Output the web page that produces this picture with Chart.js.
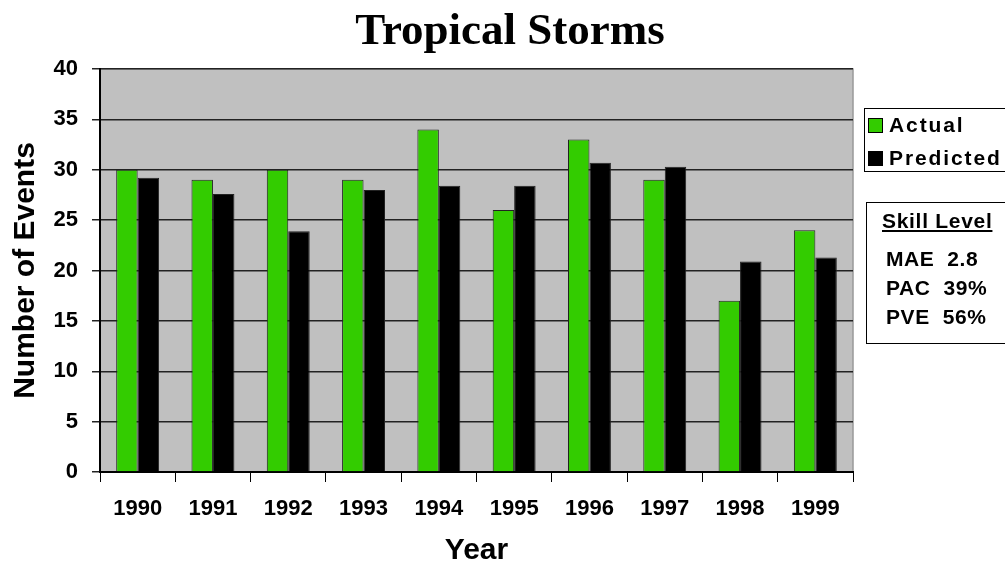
<!DOCTYPE html>
<html><head><meta charset="utf-8">
<script src="https://cdn.jsdelivr.net/npm/chart.js@4"></script>
<style>
html,body{margin:0;padding:0;background:#fff;}
#wrap{position:relative;width:1005px;height:569px;overflow:hidden;}
#title{position:absolute;left:0;top:3px;width:1020px;text-align:center;font:bold 45px "Liberation Serif","Times New Roman",serif;color:#000;}
#legend{position:absolute;left:864px;top:108px;width:150px;height:64px;border:1px solid #000;box-sizing:border-box;font:bold 21px "Liberation Sans",Arial,sans-serif;letter-spacing:1.9px;}
#legend .row{position:absolute;left:3px;height:24px;line-height:24px;white-space:nowrap;}
#legend .sw{display:inline-block;width:13px;height:13px;border:1px solid #000;margin-right:6px;vertical-align:-1px;}
#skill{position:absolute;left:866px;top:202px;width:150px;height:142px;border:1px solid #000;box-sizing:border-box;font:bold 21px "Liberation Sans",Arial,sans-serif;letter-spacing:0.6px;}
#skill .h{position:absolute;left:15px;top:6px;font-weight:bold;text-decoration:underline;font-size:21px;letter-spacing:0.7px;}
#skill .l{position:absolute;left:19px;white-space:nowrap;}
</style></head>
<body><div id="wrap"><canvas id="c" width="1005" height="569"></canvas>
<div id="title">Tropical Storms</div>
<div id="legend"></div>
<div id="skill"></div>
</div>
<script>
const years = ["1990","1991","1992","1993","1994","1995","1996","1997","1998","1999"];
const actual = [30,29,30,29,34,26,33,29,17,24];
const predicted = [29.2,27.6,23.9,28.0,28.4,28.4,30.7,30.3,20.9,21.3];
const seriesNames = ["Actual","Predicted"];
const seriesColors = ["#33cc00","#000000"];
const skillTitle = "Skill Level";
const skillLines = [["MAE","2.8"],["PAC","39%"],["PVE","56%"]];

const plotBg = {
  id:'plotBg',
  beforeDraw(chart){
    const {ctx, chartArea:a} = chart;
    ctx.save();
    ctx.fillStyle = '#c0c0c0';
    ctx.fillRect(a.left, a.top, a.right-a.left, a.bottom-a.top);
    ctx.strokeStyle = '#999';
    ctx.lineWidth = 1.5;
    ctx.beginPath();
    ctx.moveTo(a.left, a.top); ctx.lineTo(a.right, a.top); ctx.lineTo(a.right, a.bottom);
    ctx.stroke();
    ctx.restore();
  }
};

const font = "'Liberation Sans', Arial, sans-serif";
const chart = new Chart(document.getElementById('c'), {
  type:'bar',
  data:{
    labels: years,
    datasets:[
      {label:seriesNames[0], data:actual, backgroundColor:seriesColors[0], borderColor:'#222', borderWidth:1},
      {label:seriesNames[1], data:predicted, backgroundColor:seriesColors[1], borderColor:'#222', borderWidth:1}
    ]
  },
  options:{
    responsive:false, animation:false,
    layout:{padding:{top:69,right:152,left:0,bottom:0}},
    plugins:{legend:{display:false}, tooltip:{enabled:false}, title:{display:false}},
    datasets:{bar:{categoryPercentage:0.57, barPercentage:1.0}},
    scales:{
      x:{
        afterFit(s){ s.height = 97; },
        grid:{offset:true, drawOnChartArea:false, drawTicks:true, tickLength:10, color:'#000', lineWidth:1},
        border:{color:'#000', width:2},
        ticks:{color:'#000', font:{family:font, size:22, weight:'bold'}, padding:14},
        title:{display:true, text:'Year', color:'#000', font:{family:font, size:30, weight:'bold'}, padding:{top:0,bottom:0}}
      },
      y:{
        min:0, max:40,
        afterFit(s){ s.width = 100; },
        grid:{color:'#222', lineWidth:1.5, tickLength:8, drawTicks:true},
        border:{color:'#000', width:2},
        ticks:{stepSize:5, color:'#000', font:{family:font, size:22, weight:'bold'}, padding:14},
        title:{display:true, text:'Number of Events', color:'#000', font:{family:font, size:30, weight:'bold'}, padding:{top:8,bottom:0}}
      }
    }
  },
  plugins:[plotBg]
});

// HTML legend built from chart datasets
const lg = document.getElementById('legend');
chart.data.datasets.forEach((ds,i)=>{
  const r = document.createElement('div');
  r.className='row'; r.style.top = (4 + i*33) + 'px';
  const sw = document.createElement('span'); sw.className='sw'; sw.style.background = ds.backgroundColor;
  r.appendChild(sw); r.appendChild(document.createTextNode(ds.label));
  lg.appendChild(r);
});
const sk = document.getElementById('skill');
const h = document.createElement('div'); h.className='h'; h.textContent = skillTitle; sk.appendChild(h);
skillLines.forEach((p,i)=>{
  const d = document.createElement('div'); d.className='l'; d.style.top=(44+i*29)+'px';
  d.textContent = p[0] + '\u00a0 ' + p[1]; sk.appendChild(d);
});
</script></body></html>
